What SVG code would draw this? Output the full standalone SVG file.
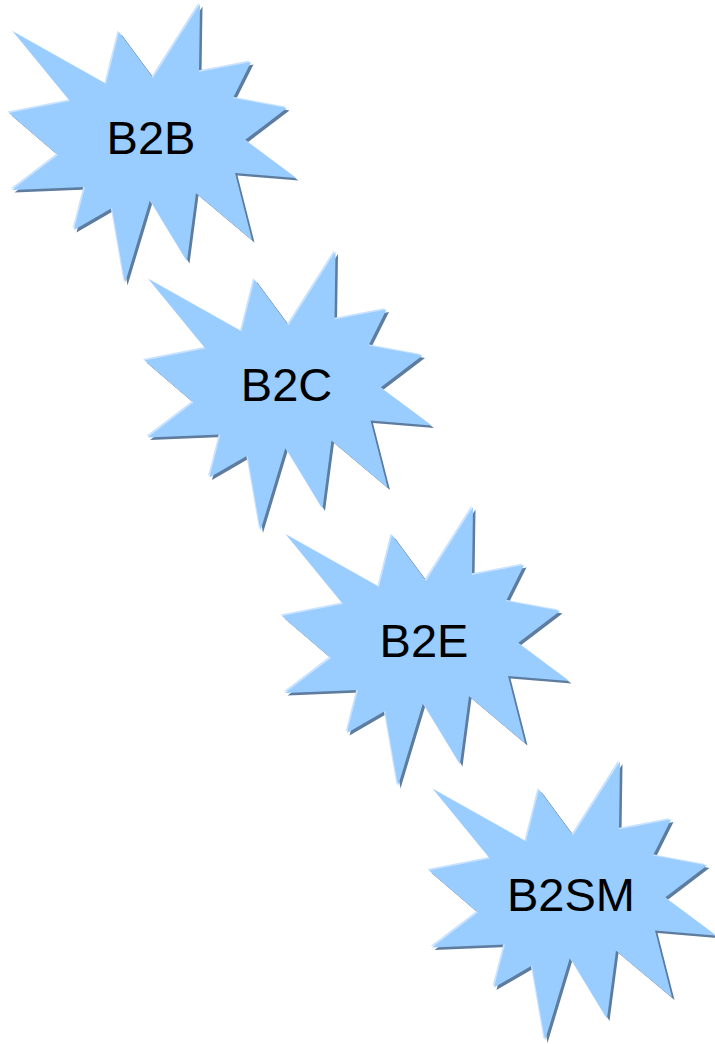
<svg xmlns="http://www.w3.org/2000/svg" xmlns:xlink="http://www.w3.org/1999/xlink" width="715" height="1044" viewBox="0 0 715 1044">
<defs>
<style>
.shadow{fill:#5d7c9e}
.hl{fill:#c8e3ff}
.body{fill:#99ccff}
.lbl{font-family:"Liberation Sans",Arial,sans-serif;font-size:47px;fill:#000;text-anchor:middle}
</style>
<filter id="soft" x="-5%" y="-5%" width="110%" height="110%"><feGaussianBlur stdDeviation="0.6"/></filter>
<polygon id="star" points="13.5,32 106,84 119,32 153,78 200,4 199,72 251,62 233,98 287,108 245,140 296,178 235,173 252,240 196,193 187,261 150,200 125,283 112,208 74,230 85,187 12,190 58,155 9,113 70,101"/>
</defs>
<rect width="715" height="1044" fill="#ffffff"/>
<g id="node-b2b">
<use xlink:href="#star" href="#star" class="shadow" transform="translate(2.5,2.5)" filter="url(#soft)"/>
<use xlink:href="#star" href="#star" class="hl" transform="translate(-1.5,-1.5)"/>
<use xlink:href="#star" href="#star" class="body"/>
<text class="lbl" x="151" y="153.5">B2B</text>
</g>
<g id="node-b2c" transform="translate(135.5,247.5)">
<use xlink:href="#star" href="#star" class="shadow" transform="translate(2.5,2.5)" filter="url(#soft)"/>
<use xlink:href="#star" href="#star" class="hl" transform="translate(-1.5,-1.5)"/>
<use xlink:href="#star" href="#star" class="body"/>
<text class="lbl" x="151" y="153.5">B2C</text>
</g>
<g id="node-b2e" transform="translate(273,503)">
<use xlink:href="#star" href="#star" class="shadow" transform="translate(2.5,2.5)" filter="url(#soft)"/>
<use xlink:href="#star" href="#star" class="hl" transform="translate(-1.5,-1.5)"/>
<use xlink:href="#star" href="#star" class="body"/>
<text class="lbl" x="151" y="153.5">B2E</text>
</g>
<g id="node-b2sm" transform="translate(420,757.5)">
<use xlink:href="#star" href="#star" class="shadow" transform="translate(2.5,2.5)" filter="url(#soft)"/>
<use xlink:href="#star" href="#star" class="hl" transform="translate(-1.5,-1.5)"/>
<use xlink:href="#star" href="#star" class="body"/>
<text class="lbl" x="151" y="153.5">B2SM</text>
</g>
</svg>
